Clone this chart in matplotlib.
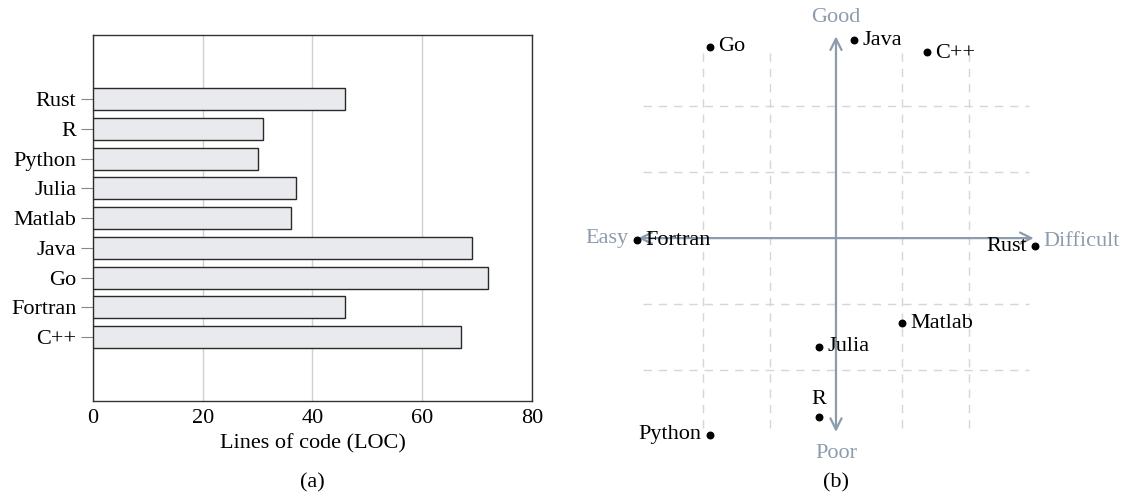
import matplotlib
matplotlib.use("Agg")
import matplotlib.pyplot as plt

plt.rcParams['font.family'] = ['Liberation Serif', 'DejaVu Serif']
plt.rcParams['font.size'] = 16

# (a) lines of code
languages = ['C++', 'Fortran', 'Go', 'Java', 'Matlab', 'Julia', 'Python', 'R', 'Rust']
loc = [67, 46, 72, 69, 36, 37, 30, 31, 46]

# (b) difficulty vs performance
pts_names = ['Go', 'Java', 'C++', 'Fortran', 'Rust', 'Matlab', 'Julia', 'R', 'Python']
pts_x = [-1.9, 0.27, 1.37, -3.0, 3.0, 1.0, -0.26, -0.26, -1.9]
pts_y = [2.9, 3.0, 2.82, -0.03, -0.12, -1.29, -1.65, -2.71, -2.98]

axis_col = '#8c9cad'
grid_col = '#d6d6d6'

fig = plt.figure(figsize=(11.24, 5.04), dpi=100)

# ---- left: bar chart
ax1 = fig.add_axes([0.0827, 0.2044, 0.3906, 0.726])
ypos = list(range(len(languages)))
ax1.barh(ypos, loc, height=0.74, color='#e8eaed', edgecolor='#2a2a2a', linewidth=1.0, zorder=3)
ax1.set_yticks(ypos)
ax1.set_yticklabels(languages)
ax1.set_xlim(0, 80)
ax1.set_xticks([0, 20, 40, 60, 80])
ax1.set_ylim(-2.15, 10.15)
ax1.grid(axis='x', color='#d0d0d0', linewidth=1.0, zorder=0)
ax1.tick_params(axis='y', length=9, color='#888888', pad=3)
ax1.tick_params(axis='x', length=0, pad=6)
for s in ax1.spines.values():
    s.set_color('#333333')
    s.set_linewidth(1.0)
ax1.set_xlabel('Lines of code (LOC)', labelpad=4)
fig.text(0.2777, 0.022, '(a)', ha='center', va='bottom')

# ---- right: quadrant chart
ax2 = fig.add_axes([0.5311, 0.0563, 0.4253, 0.9425])
ax2.set_xlim(-3.6, 3.6)
ax2.set_ylim(-3.6, 3.6)
ax2.axis('off')
for g in [-2, -1, 1, 2]:
    ax2.plot([g, g], [-2.88, 2.9], color=grid_col, linestyle=(0, (6, 5)), linewidth=1.0, zorder=1)
    ax2.plot([-2.9, 2.9], [g, g], color=grid_col, linestyle=(0, (6, 5)), linewidth=1.0, zorder=1)

arrow = dict(arrowstyle='<->,head_length=0.5,head_width=0.25', color=axis_col, linewidth=1.6)
ax2.annotate('', xy=(3.02, 0), xytext=(-3.02, 0), arrowprops=arrow, zorder=2)
ax2.annotate('', xy=(0, 3.1), xytext=(0, -2.98), arrowprops=arrow, zorder=2)
ax2.text(0, 3.2, 'Good', color=axis_col, ha='center', va='bottom')
ax2.text(0, -3.12, 'Poor', color=axis_col, ha='center', va='top')
ax2.text(-3.12, 0.0, 'Easy', color=axis_col, ha='right', va='center')
ax2.text(3.12, -0.05, 'Difficult', color=axis_col, ha='left', va='center')

ax2.scatter(pts_x, pts_y, s=22, color='black', zorder=4)
label_pos = {
    'Go': (6, 0, 'left', 'center'),
    'Java': (6, 0, 'left', 'center'),
    'C++': (6, -1, 'left', 'center'),
    'Fortran': (6, 0, 'left', 'center'),
    'Rust': (-6, 0, 'right', 'center'),
    'Matlab': (6, 0, 'left', 'center'),
    'Julia': (6, 0, 'left', 'center'),
    'R': (0, 6, 'center', 'bottom'),
    'Python': (-6, 0, 'right', 'center'),
}
for name, x, y in zip(pts_names, pts_x, pts_y):
    dx, dy, ha, va = label_pos[name]
    ax2.annotate(name, (x, y), xytext=(dx, dy), textcoords='offset points',
                 ha=ha, va=va, zorder=5, annotation_clip=False)

fig.text(0.744, 0.022, '(b)', ha='center', va='bottom')

fig.savefig('out.png', dpi=100)
